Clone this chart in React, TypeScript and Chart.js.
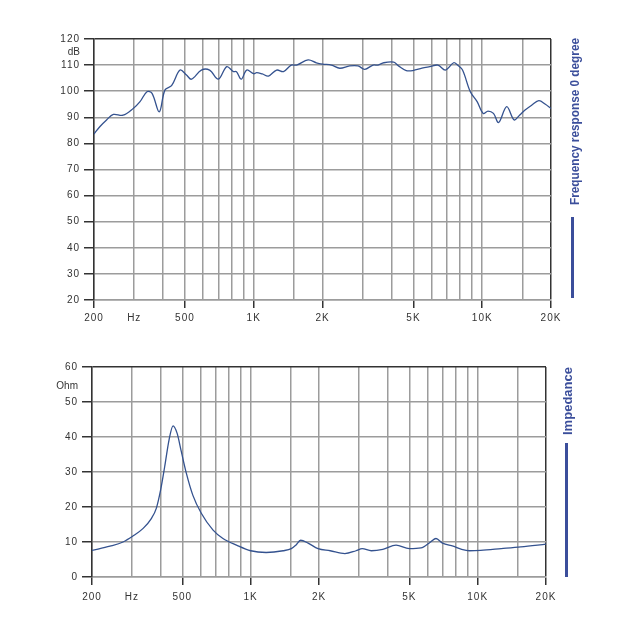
import { useEffect, useRef } from "react";
import { Chart, registerables } from "chart.js";
Chart.register(...registerables);

// ---------- Data ----------
const gridFreqs = [200, 300, 400, 500, 600, 700, 800, 900, 1000, 1500, 2000, 3000, 4000, 5000, 6000, 7000, 8000, 9000, 10000, 15000, 20000];
const labelFreqs = [200, 300, 500, 1000, 2000, 5000, 10000, 20000];
const labelTexts = ["200", "Hz", "500", "1K", "2K", "5K", "10K", "20K"];

const frFreq = [200, 212, 227, 243, 268, 297, 318, 341, 359, 386, 409, 437, 476, 508, 534, 590, 641, 700, 762, 815, 840, 882, 932, 1000,
  1030, 1090, 1160, 1260, 1350, 1460, 1540, 1730, 1880, 2000, 2190, 2380, 2630, 2860, 3060, 3330, 3500, 3710, 4100, 4300, 4650, 4970,
  5450, 5900, 6400, 6900, 7500, 7800, 8200, 8870, 9500, 10100, 10600, 11200, 11800, 12800, 13800, 14600, 15400, 16500, 17700, 18900, 20000];
const frDb = [83.6, 86.4, 89.0, 91.1, 90.8, 93.4, 96.0, 99.8, 99.2, 92.1, 100.5, 102.1, 108.1, 106.2, 104.6, 108.1, 108.1, 104.6, 109.4, 107.5, 107.5, 104.6, 108.1, 106.7,
  107.1, 106.6, 105.8, 108.1, 107.5, 110.0, 110.0, 112.0, 110.9, 110.4, 110.0, 108.8, 109.7, 109.7, 108.4, 110.0, 110.0, 110.9, 111.1, 109.7, 107.9, 107.9,
  108.8, 109.4, 110.0, 108.1, 110.9, 110.0, 108.1, 99.8, 96.0, 91.5, 92.4, 91.5, 88.0, 94.1, 89.0, 90.9, 92.8, 94.7, 96.4, 95.0, 93.4];

const impFreq = [200, 240, 274, 303, 336, 365, 384, 401, 418, 437, 455, 474, 495, 521, 556, 606, 683, 755, 866, 1000, 1170, 1390, 1510, 1580,
  1660, 1790, 1980, 2240, 2600, 2910, 3100, 3400, 3820, 4370, 5000, 5630, 6200, 6550, 7000, 7800, 8500, 9200, 10300, 12700, 15500, 20000];
const impOhm = [7.6, 8.8, 10.0, 11.7, 13.9, 16.7, 19.6, 24.8, 31.5, 39.2, 43.2, 41.1, 35.8, 29.6, 23.4, 18.2, 13.4, 11.0, 9.1, 7.5, 7.0, 7.5, 8.1, 9.1,
  10.5, 9.7, 8.1, 7.5, 6.7, 7.5, 8.1, 7.5, 7.9, 9.1, 8.1, 8.3, 10.0, 11.0, 9.7, 8.8, 7.9, 7.5, 7.6, 8.1, 8.6, 9.4];

// ---------- Styles ----------
const FONT = "'Liberation Sans', Arial, sans-serif";
const GRID = "#9c9c9c";
const DARK = "#333333";
const LINE = "#34528f";
const TITLE = "#3b4e9b";

type Cfg = {
  xs: number[]; ys: number[]; yMin: number; yMax: number;
  unit: string; unitValue: number; title: string;
  titleX: number; titleCenter: number; titleLen: number;
  barX: number; barTop: number; barBottom: number;
  pad: { left: number; right: number; top: number; bottom: number };
  yWidth: number; xHeight: number; xPad: number; tension: number;
};

function makeChart(canvas: HTMLCanvasElement, c: Cfg) {
  const spacing = {
    id: "spacing",
    beforeDraw(chart: any) { chart.ctx.letterSpacing = "1px"; },
    afterDraw(chart: any) {
      const ctx = chart.ctx;
      const y = chart.scales.y;
      ctx.save();
      ctx.fillStyle = DARK;
      ctx.font = `10px ${FONT}`;
      ctx.textAlign = "right";
      ctx.textBaseline = "middle";
      ctx.letterSpacing = "0px";
      ctx.fillText(c.unit, chart.chartArea.left - 14, y.getPixelForValue(c.unitValue));
      // title
      ctx.font = `bold 13px ${FONT}`;
      const w = ctx.measureText(c.title).width;
      const s = c.titleLen / w;
      ctx.translate(c.titleX, c.titleCenter);
      ctx.rotate(-Math.PI / 2);
      ctx.scale(s, 1);
      ctx.fillStyle = TITLE;
      ctx.textAlign = "center";
      ctx.fillText(c.title, 0, 0);
      ctx.restore();
      ctx.save();
      ctx.strokeStyle = TITLE;
      ctx.lineWidth = 3;
      ctx.beginPath();
      ctx.moveTo(c.barX, c.barTop);
      ctx.lineTo(c.barX, c.barBottom);
      ctx.stroke();
      ctx.restore();
    },
  };
  return new Chart(canvas, {
    type: "line",
    data: {
      datasets: [{
        data: c.xs.map((x, i) => ({ x, y: c.ys[i] })),
        borderColor: LINE,
        borderWidth: 1.3,
        pointRadius: 0,
        tension: c.tension,
        cubicInterpolationMode: c.tension === 0 ? "monotone" : "default",
        fill: false,
      }],
    },
    options: {
      responsive: false,
      animation: false,
      layout: { padding: c.pad },
      plugins: { legend: { display: false }, tooltip: { enabled: false } },
      scales: {
        x: {
          type: "logarithmic",
          min: 200,
          max: 20000,
          afterBuildTicks: (s: any) => { s.ticks = gridFreqs.map((v) => ({ value: v })); },
          afterFit: (s: any) => { s.height = c.xHeight; },
          ticks: {
            autoSkip: false, maxRotation: 0, minRotation: 0, padding: c.xPad,
            color: DARK, font: { family: FONT, size: 10 },
            callback: (v: any) => { const i = labelFreqs.indexOf(Number(v)); return i >= 0 ? labelTexts[i] : ""; },
          },
          grid: {
            color: (ctx: any) => (ctx.tick && ctx.tick.value === 20000 ? DARK : GRID),
            lineWidth: 1.5,
            tickLength: 8,
            tickWidth: 1.5,
            tickColor: (ctx: any) => {
              const v = ctx.tick ? ctx.tick.value : 0;
              return labelFreqs.includes(v) && v !== 300 ? DARK : "rgba(0,0,0,0)";
            },
          },
          border: { color: GRID, width: 1.5 },
        },
        y: {
          min: c.yMin,
          max: c.yMax,
          afterFit: (s: any) => { s.width = c.yWidth; },
          ticks: { stepSize: 10, padding: 4, color: DARK, font: { family: FONT, size: 10 } },
          grid: {
            color: (ctx: any) => (ctx.tick && ctx.tick.value === c.yMax ? DARK : GRID),
            lineWidth: 1.5,
            tickLength: 10,
            tickWidth: 1.5,
            tickColor: DARK,
          },
          border: { color: DARK, width: 1.5 },
        },
      },
    },
    plugins: [spacing],
  } as any);
}

export default function App() {
  const topRef = useRef<HTMLCanvasElement>(null);
  const botRef = useRef<HTMLCanvasElement>(null);
  useEffect(() => {
    const a = makeChart(topRef.current!, {
      xs: frFreq, ys: frDb, yMin: 20, yMax: 120, unit: "dB", unitValue: 115,
      title: "Frequency response 0 degree", titleX: 575, titleCenter: 121.5, titleLen: 167,
      barX: 572.5, barTop: 217, barBottom: 298,
      pad: { left: 0, right: 86, top: 39, bottom: 5 }, yWidth: 94, xHeight: 30, xPad: 4, tension: 0.35,
    });
    const b = makeChart(botRef.current!, {
      xs: impFreq, ys: impOhm, yMin: 0, yMax: 60, unit: "Ohm", unitValue: 54.5,
      title: "Impedance", titleX: 568, titleCenter: 66, titleLen: 68,
      barX: 566.5, barTop: 108, barBottom: 242,
      pad: { left: 0, right: 91, top: 32, bottom: 30 }, yWidth: 92, xHeight: 30, xPad: 6, tension: 0,
    });
    return () => { a.destroy(); b.destroy(); };
  }, []);
  return (
    <div style={{ position: "absolute", left: 0, top: 0, width: 637, height: 637, background: "#fff" }}>
      <canvas ref={topRef} width={637} height={335} style={{ position: "absolute", left: 0, top: 0 }} />
      <canvas ref={botRef} width={637} height={302} style={{ position: "absolute", left: 0, top: 335 }} />
    </div>
  );
}
